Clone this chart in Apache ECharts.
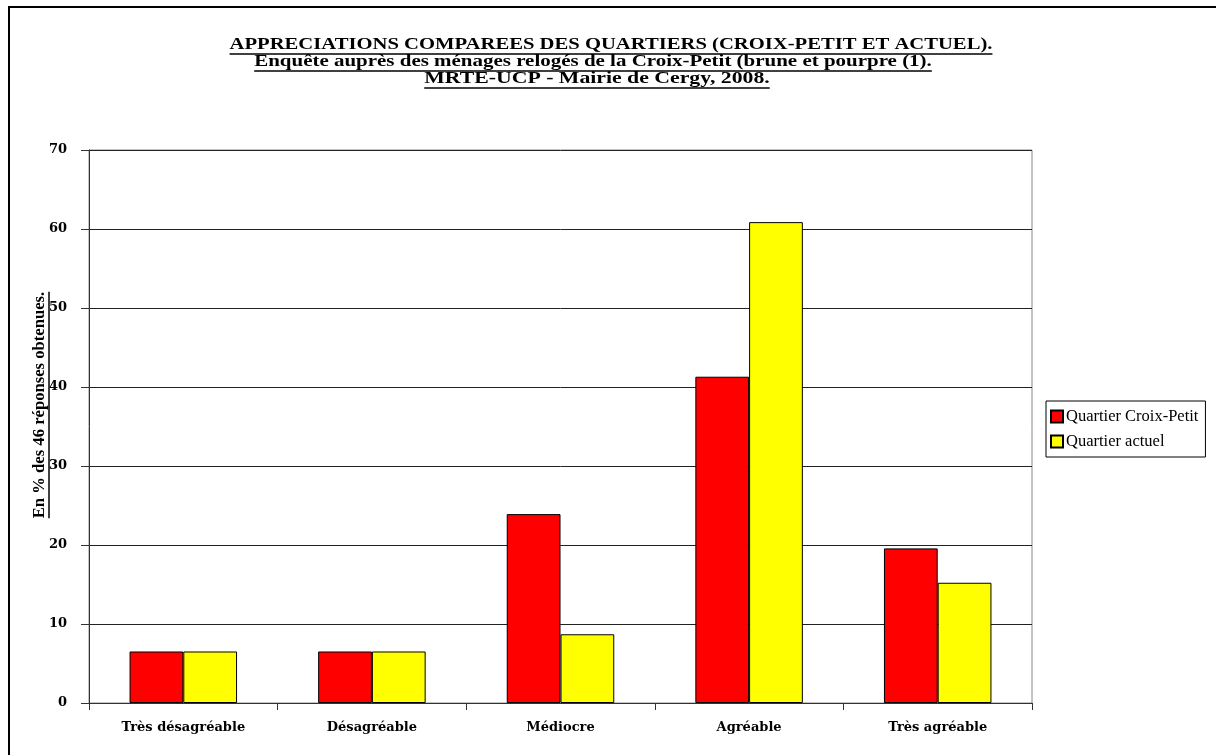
<!DOCTYPE html>
<html lang="fr">
<head>
<meta charset="UTF-8">
<title>Appréciations comparées des quartiers</title>
<script src="https://cdn.jsdelivr.net/npm/echarts@6/dist/echarts.min.js"></script>
<style>
  html, body { margin: 0; padding: 0; background: #fff; }
  #chart { width: 1216px; height: 755px; }
</style>
</head>
<body>
<div id="chart"></div>
<script>
var categories = ['Très désagréable', 'Désagréable', 'Médiocre', 'Agréable', 'Très agréable'];
var croixPetit = [6.52, 6.52, 23.91, 41.30, 19.57];
var actuel = [6.52, 6.52, 8.70, 60.87, 15.22];
var seriesNames = ['Quartier Croix-Petit', 'Quartier actuel'];
var titleLines = [
  'APPRECIATIONS COMPAREES DES QUARTIERS (CROIX-PETIT ET ACTUEL).',
  'Enquête auprès des ménages relogés de la Croix-Petit (brune et pourpre (1).',
  'MRTE-UCP - Mairie de Cergy, 2008.'
];
var yName = 'En % des 46 réponses obtenues.';

var FONT = '"Liberation Serif", "Times New Roman", serif';
var WIDE = '"DejaVu Serif", serif';

// mesure de texte pour placer les soulignements
var ctx = document.createElement('canvas').getContext('2d');
function textWidth(str, size) {
  ctx.font = 'bold ' + size + 'px ' + FONT;
  return ctx.measureText(str).width;
}

// texte souligné, centré sur (cx, cy), étiré horizontalement de sx
function underlined(str, cx, cy, size, rot, sx) {
  var w = textWidth(str, size);
  return {
    type: 'group',
    x: cx, y: cy,
    rotation: rot || 0,
    scaleX: sx || 1,
    children: [
      { type: 'text', x: 0, y: 0,
        style: { text: str, fill: '#000', font: 'bold ' + size + 'px ' + FONT,
                 align: 'center', verticalAlign: 'middle' } },
      { type: 'line',
        shape: { x1: -w / 2, y1: size * 0.5 + 1, x2: w / 2, y2: size * 0.5 + 1 },
        style: { stroke: '#000', lineWidth: 1.5 } }
    ]
  };
}

var graphics = [
  { type: 'rect', shape: { x: 9, y: 7, width: 1230, height: 780 },
    style: { fill: 'none', stroke: '#000', lineWidth: 2 }, z: -1 },
  underlined(titleLines[0], 611, 45, 16, 0, 1.29),
  underlined(titleLines[1], 593, 62, 16, 0, 1.31),
  underlined(titleLines[2], 597, 79, 16, 0, 1.36),
  underlined(yName, 40, 405, 16, Math.PI / 2, 1.04)
];

var chart = echarts.init(document.getElementById('chart'));
chart.setOption({
  animation: false,
  backgroundColor: '#fff',
  graphic: graphics,
  grid: {
    left: 89, right: 184, top: 150, bottom: 52,
    show: true, borderColor: '#888', borderWidth: 1
  },
  legend: {
    orient: 'vertical',
    left: 1046, top: 401,
    padding: [7, 7, 7, 4],
    itemGap: 8,
    itemWidth: 12, itemHeight: 12,
    icon: 'rect',
    borderColor: '#000', borderWidth: 1,
    textStyle: { fontFamily: FONT, fontSize: 16.5, color: '#000', lineHeight: 17, padding: [0, 0, 0, -2] },
    data: seriesNames
  },
  xAxis: {
    type: 'category',
    data: categories,
    axisLine: { lineStyle: { color: '#333', width: 1 } },
    axisTick: { show: true, length: 7, lineStyle: { color: '#333' } },
    axisLabel: { margin: 18, color: '#000', fontFamily: WIDE, fontWeight: 'bold', fontSize: 13 }
  },
  yAxis: {
    type: 'value',
    min: 0, max: 70, interval: 10,
    axisLine: { show: true, lineStyle: { color: '#333', width: 1 } },
    axisTick: { show: true, length: 8, lineStyle: { color: '#333' } },
    axisLabel: { margin: 22, color: '#000', fontFamily: WIDE, fontWeight: 'bold', fontSize: 13 },
    splitLine: { show: true, lineStyle: { color: '#222', width: 1 } }
  },
  series: [
    {
      name: seriesNames[0], type: 'bar', data: croixPetit,
      barGap: '0%', barCategoryGap: '43%',
      itemStyle: { color: '#FF0000', borderColor: '#000', borderWidth: 1 }
    },
    {
      name: seriesNames[1], type: 'bar', data: actuel,
      itemStyle: { color: '#FFFF00', borderColor: '#000', borderWidth: 1 }
    }
  ]
});
</script>
</body>
</html>
